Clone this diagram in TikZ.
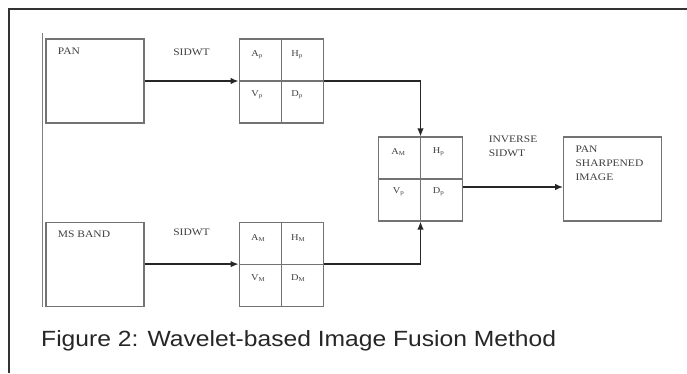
\documentclass[tikz,border=0pt]{standalone}
\usepackage{fontspec}
\setmainfont{Liberation Serif}
\newfontfamily\capfont[FakeStretch=1.12]{Liberation Sans}
\newfontfamily\boxfont[FakeStretch=1.15]{Liberation Serif}
\usetikzlibrary{arrows.meta,positioning}
\tikzset{
    srcbox/.style={rectangle,draw=black!55,line width=1.1pt,minimum width=98pt,minimum height=84pt,inner sep=0pt},
    gridbox/.style={rectangle,draw=black!55,line width=1.1pt,minimum width=84pt,minimum height=84pt,inner sep=0pt},
    gridline/.style={draw=black!55,line width=1.1pt},
    boxtext/.style={anchor=north west,xshift=9pt,yshift=-6pt,align=left,font=\fontsize{10}{14}\boxfont,text=black!75},
    linktext/.style={midway,align=left,font=\fontsize{10}{14}\boxfont,text=black!75},
    celltext/.style={font=\fontsize{9}{10}\boxfont,text=black!75,inner sep=0pt},
    arrowline/.style={-{Latex[length=8pt,width=6.5pt]},line width=1.4pt,draw=black!85},
    frameline/.style={line width=1.4pt,draw=black!80},
    scanline/.style={line width=0.9pt,draw=black!50},
    caption/.style={anchor=base west,inner sep=0pt,font=\fontsize{22}{26}\capfont,text=black!85}
}
\begin{document}
\begin{tikzpicture}[x=1pt,y=-1pt]
            \useasboundingbox (0,0) rectangle (687,373);
            \draw[frameline] (9,373) -- (9,9) -- (687,9);
            \draw[scanline] (42.5,33) -- (42.5,307);
            \node[srcbox,label={[boxtext]north west:PAN}] (pan) at (95,81) {};
            \node[gridbox,right=94pt of pan] (gridp) {};
            \node[srcbox,below=98pt of pan,label={[boxtext]north west:MS BAND}] (ms) {};
            \node[gridbox,right=94pt of ms] (gridm) {};
            \node[gridbox] (fused) at (420.5,179) {};
            \node[srcbox,right=100pt of fused,label={[boxtext]north west:{PAN\\SHARPENED\\IMAGE}}] (result) {};
            \foreach \g in {gridp,gridm,fused}{
                \draw[gridline] (\g.north) -- (\g.south);
                \draw[gridline] (\g.west) -- (\g.east);
            }
            \node[celltext] (gridp-a) at ([shift={(-24pt,26pt)}]gridp.center) {A\textsubscript{p}};
            \node[celltext] (gridp-h) at ([shift={(16pt,26pt)}]gridp.center) {H\textsubscript{p}};
            \node[celltext] (gridp-v) at ([shift={(-24pt,-14pt)}]gridp.center) {V\textsubscript{p}};
            \node[celltext] (gridp-d) at ([shift={(16pt,-14pt)}]gridp.center) {D\textsubscript{p}};
            \node[celltext] (gridm-a) at ([shift={(-23pt,26pt)}]gridm.center) {A\textsubscript{M}};
            \node[celltext] (gridm-h) at ([shift={(17pt,26pt)}]gridm.center) {H\textsubscript{M}};
            \node[celltext] (gridm-v) at ([shift={(-23pt,-14pt)}]gridm.center) {V\textsubscript{M}};
            \node[celltext] (gridm-d) at ([shift={(17pt,-14pt)}]gridm.center) {D\textsubscript{M}};
            \node[celltext] (fused-a) at ([shift={(-22pt,27pt)}]fused.center) {A\textsubscript{M}};
            \node[celltext] (fused-h) at ([shift={(18pt,27pt)}]fused.center) {H\textsubscript{p}};
            \node[celltext] (fused-v) at ([shift={(-22pt,-13pt)}]fused.center) {V\textsubscript{p}};
            \node[celltext] (fused-d) at ([shift={(18pt,-13pt)}]fused.center) {D\textsubscript{p}};
            \draw[arrowline] (pan) -- node[linktext,yshift=29pt]{SIDWT} (gridp);
            \draw[arrowline] (ms) -- node[linktext,yshift=32pt]{SIDWT} (gridm);
            \draw[arrowline] (gridp.east) -| (fused.north);
            \draw[arrowline] (gridm.east) -| (fused.south);
            \draw[arrowline] ([yshift=-8pt]fused.east) -- node[linktext,yshift=41pt]{INVERSE\\SIDWT} ([yshift=-8pt]result.west);
            \node[caption] (cap) at (41,346) {Figure 2: Wavelet-based Image Fusion Method};
        \end{tikzpicture}
\end{document}
